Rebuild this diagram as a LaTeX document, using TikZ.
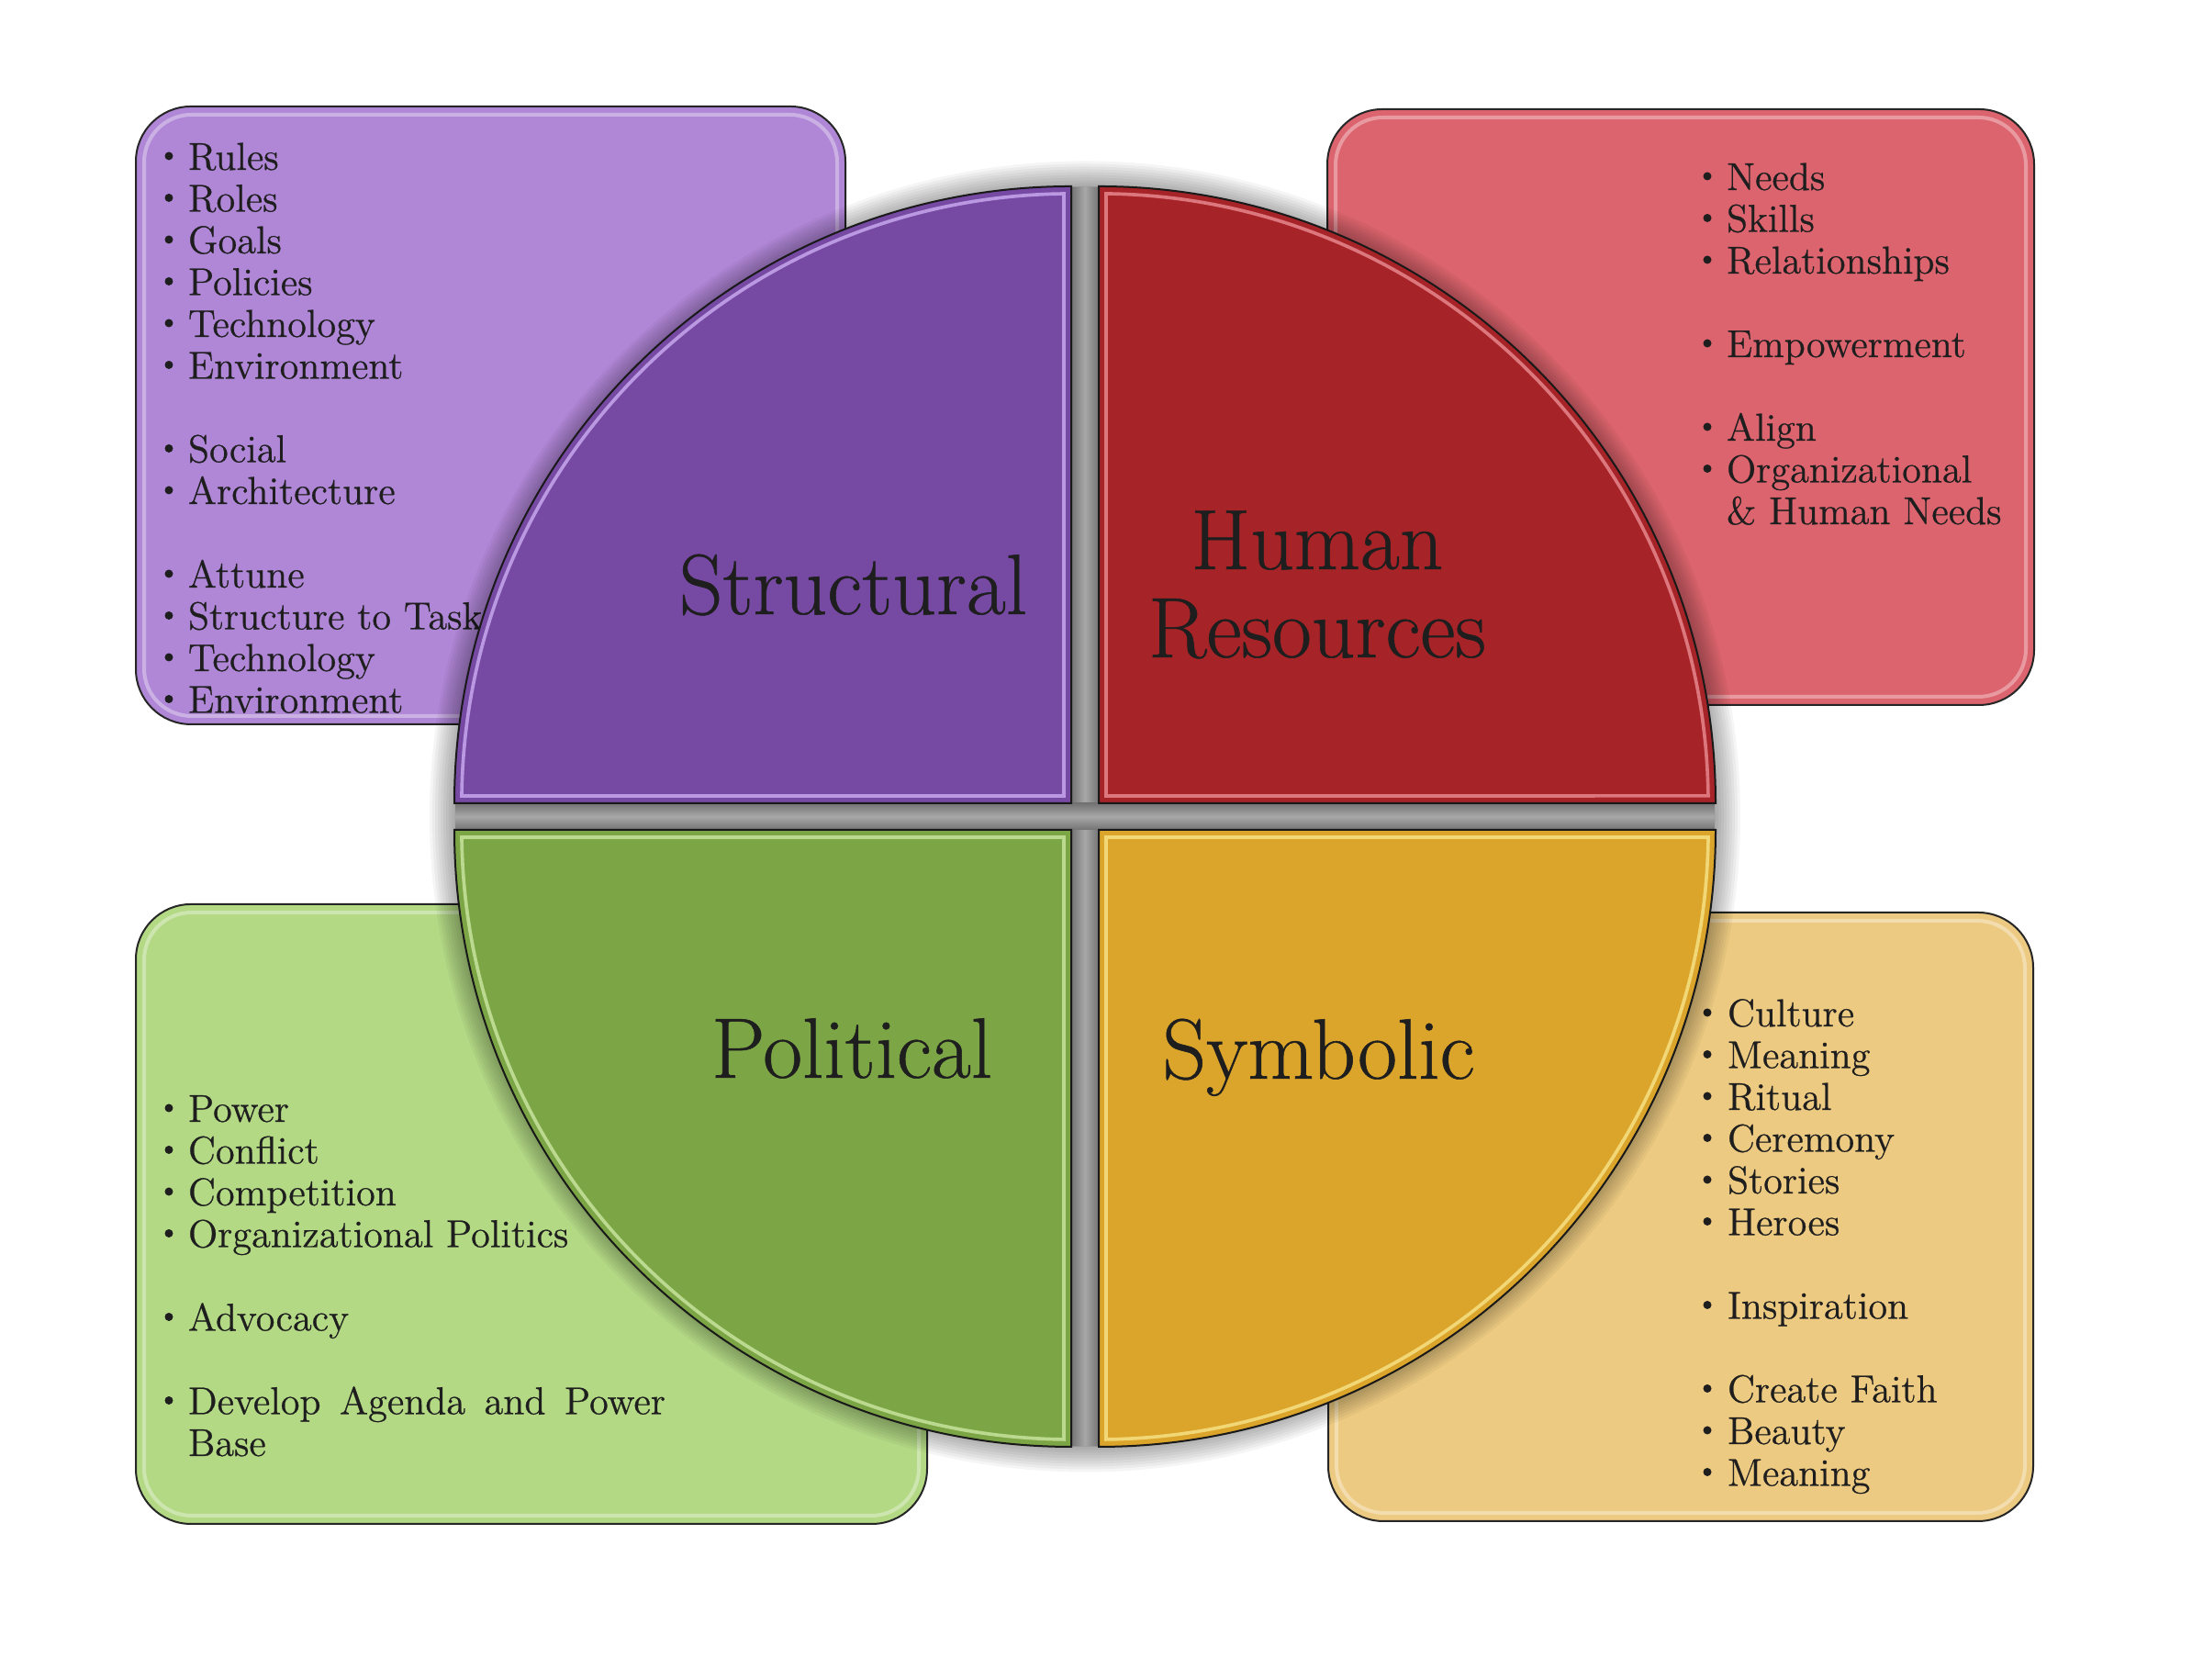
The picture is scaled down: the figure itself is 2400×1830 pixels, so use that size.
\documentclass[tikz,border=0pt]{standalone}
\usepackage{fontspec}
\newfontfamily\dfont{Latin Modern Roman}[FakeBold=0.6]
\definecolor{pbox}{HTML}{B087D7}
\definecolor{pquad}{HTML}{7649A3}
\definecolor{pbev}{HTML}{CDAEF2}
\definecolor{rbox}{HTML}{DC646E}
\definecolor{rquad}{HTML}{A62327}
\definecolor{rbev}{HTML}{EA8C93}
\definecolor{gbox}{HTML}{B3D985}
\definecolor{gquad}{HTML}{7CA545}
\definecolor{gbev}{HTML}{CBE8A3}
\definecolor{ybox}{HTML}{EDCA82}
\definecolor{yquad}{HTML}{DBA42B}
\definecolor{ybev}{HTML}{F8E48A}
\definecolor{txt}{HTML}{1E1E1E}
\definecolor{gapgrey}{HTML}{959595}
\definecolor{gapdark}{HTML}{737373}
\definecolor{gaplight}{HTML}{A8A8A8}
\begin{document}
\begin{tikzpicture}[x=0.3pt,y=0.3pt,
  boxshape/.style={draw=black!85, line width=0.6pt, rounded corners=18pt},
  boxglow/.style={draw=white, draw opacity=0.35, line width=1.2pt, rounded corners=15.5pt},
  quad/.style={draw=black!90, line width=0.6pt},
  bevel/.style={draw opacity=0.8, line width=1.1pt},
  item/.style={anchor=base west, inner sep=0pt, outer sep=0pt, text=txt, font=\dfont\fontsize{12.7}{13.65}\selectfont},
  title/.style={anchor=base, inner sep=0pt, text=txt, font=\dfont\fontsize{28}{28.8}\selectfont},
  dot/.style={fill=txt}
]
\fill[white] (0,0) rectangle (2400,1830);
\useasboundingbox (0,0) rectangle (2400,1830);

% ---- side boxes ----
\draw[boxshape, fill=pbox] (148,1041) rectangle (921,1714);
\draw[boxglow] (157,1050) rectangle (912,1705);
\draw[boxshape, fill=rbox] (1446,1062) rectangle (2216,1711);
\draw[boxglow] (1455,1071) rectangle (2207,1702);
\draw[boxshape, fill=gbox] (148,170) rectangle (1010,845);
\draw[boxglow] (157,179) rectangle (1001,836);
\draw[boxshape, fill=ybox] (1447,173) rectangle (2215,836);
\draw[boxglow] (1456,182) rectangle (2206,827);

% ---- structural list ----
\foreach \k/\t in {0/Rules,1/Roles,2/Goals,3/Policies,4/Technology,5/Environment,7/Social,8/Architecture,10/Attune,11/Structure to Task,12/Technology,13/Environment}{
  \node[item] (s\k) at (205,{1645-45.5*\k}) {\t};
  \fill[dot] (184,{1645-45.5*\k+15}) circle[radius=4.5];
}
% ---- human resources list ----
\foreach \k/\t in {0/Needs,1/Skills,2/Relationships,4/Empowerment,6/Align,7/Organizational}{
  \node[item] (h\k) at (1881,{1623-45.5*\k}) {\t};
  \fill[dot] (1860,{1623-45.5*\k+15}) circle[radius=4.5];
}
\node[item] (h8) at (1881,{1623-45.5*8}) {\& Human Needs};
% ---- political list ----
\foreach \k/\t in {0/Power,1/Conflict,2/Competition,3/Organizational Politics,5/Advocacy}{
  \node[item] (g\k) at (205,{608-45.5*\k}) {\t};
  \fill[dot] (184,{608-45.5*\k+15}) circle[radius=4.5];
}
\node[item] (g7) at (205,{608-45.5*7}) {\makebox[156pt][s]{Develop Agenda and Power}};
\fill[dot] (184,{608-45.5*7+15}) circle[radius=4.5];
\node[item] (g8) at (205,{608-45.5*8}) {Base};
% ---- symbolic list ----
\foreach \k/\t in {0/Culture,1/Meaning,2/Ritual,3/Ceremony,4/Stories,5/Heroes,7/Inspiration,9/Create Faith,10/Beauty,11/Meaning}{
  \node[item] (y\k) at (1882,{712-45.5*\k}) {\t};
  \fill[dot] (1860,{712-45.5*\k+15}) circle[radius=4.5];
}

% ---- shadow of the circle ----
\foreach \r in {687,690,...,714}{
  \fill[black, opacity=0.04] (1182,940.5) circle[radius=\r];
}
\fill[gapgrey] (1182,940.5) circle[radius=686];
\begin{scope}
  \clip (1182,940.5) circle[radius=686];
  \shade[left color=gapdark, right color=gapdark, middle color=gaplight] (1167,200) rectangle (1197,1690);
  \shade[top color=gapdark, bottom color=gapdark, middle color=gaplight] (480,926) rectangle (1890,955);
\end{scope}

% ---- quadrants ----
\draw[quad, fill=pquad] (1167,955) -- (495,955) arc[start angle=180, end angle=90, radius=672] -- cycle;
\draw[bevel, draw=pbev] (1159,963) -- (503,963) arc[start angle=179.31, end angle=90.69, radius=664] -- cycle;
\draw[quad, fill=rquad] (1197,955) -- (1197,1627) arc[start angle=90, end angle=0, radius=672] -- cycle;
\draw[bevel, draw=rbev] (1205,963) -- (1205,1619) arc[start angle=89.31, end angle=0.69, radius=664] -- cycle;
\draw[quad, fill=gquad] (1167,926) -- (495,926) arc[start angle=180, end angle=270, radius=672] -- cycle;
\draw[bevel, draw=gbev] (1159,918) -- (503,918) arc[start angle=180.69, end angle=269.31, radius=664] -- cycle;
\draw[quad, fill=yquad] (1197,926) -- (1869,926) arc[start angle=0, end angle=-90, radius=672] -- cycle;
\draw[bevel, draw=ybev] (1205,918) -- (1861,918) arc[start angle=-0.69, end angle=-89.31, radius=664] -- cycle;

% ---- titles ----
\node[title] (structural) at (929.5,1161) {Structural};
\node[title] (human) at (1435,1210) {Human};
\node[title] (resources) at (1435,1114) {Resources};
\node[title] (political) at (928,656) {Political};
\node[title] (symbolic) at (1436.5,655) {Symbolic};
\end{tikzpicture}
\end{document}
